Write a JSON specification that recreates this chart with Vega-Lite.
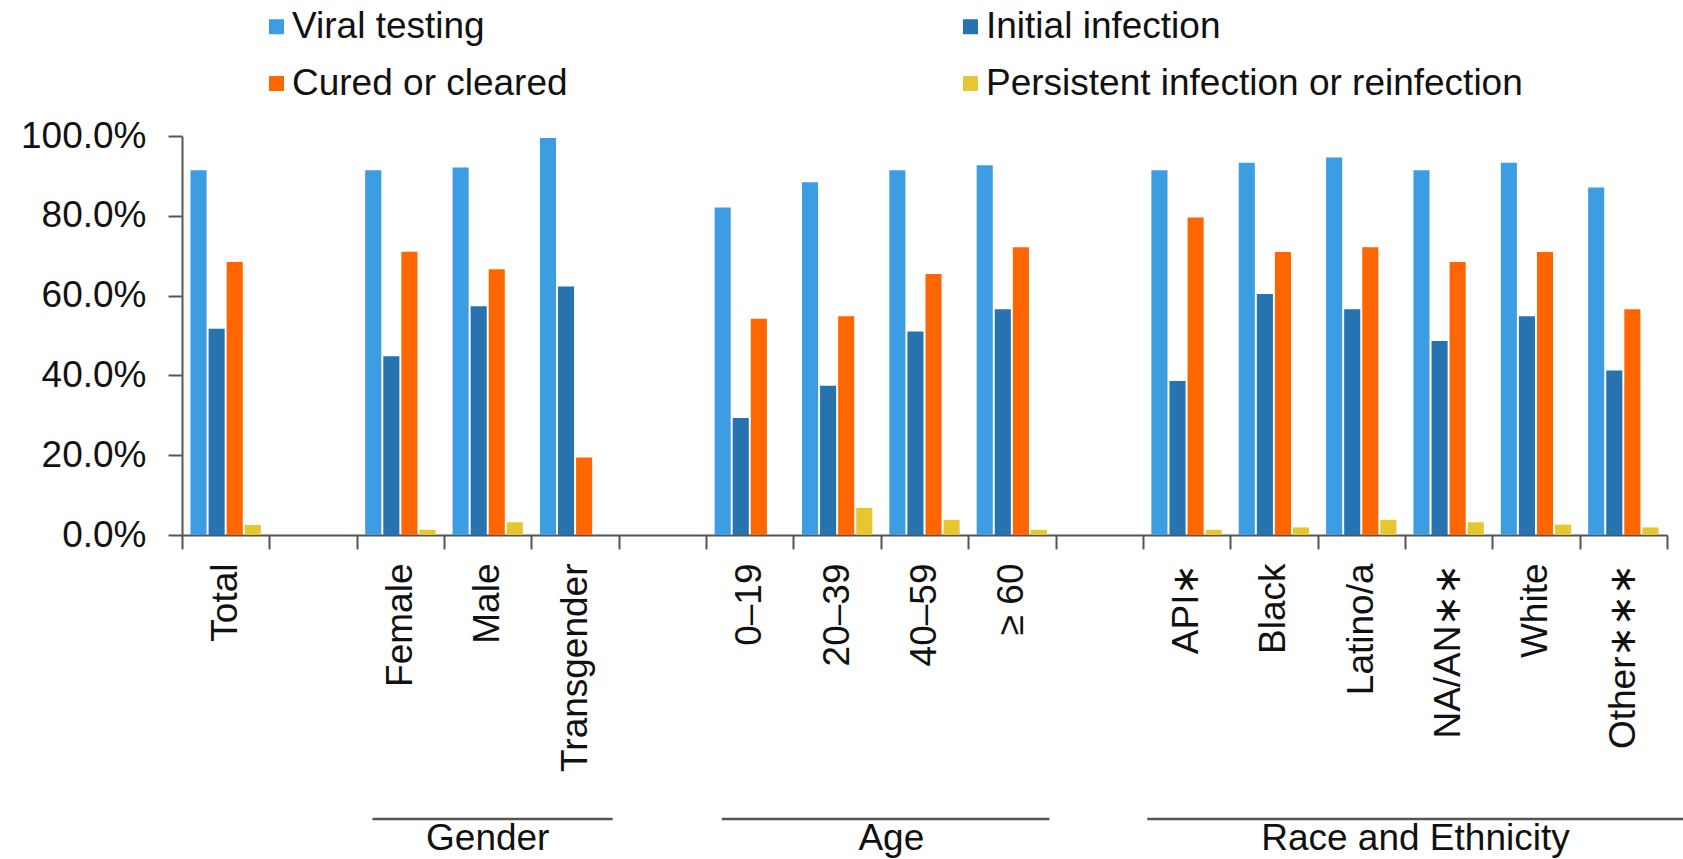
{
  "$schema": "https://vega.github.io/schema/vega-lite/v6.json",
  "width": 1485,
  "height": 399,
  "autosize": "none",
  "padding": {"left": 182, "top": 136, "right": 16, "bottom": 324},
  "background": "white",
  "config": {
    "view": {"stroke": null},
    "font": "Liberation Sans",
    "text": {"font": "Liberation Sans"}
  },
  "datasets": {
    "bars": [
      {"category": "Total", "measure": "Viral testing", "value": 0.914},
      {"category": "Total", "measure": "Initial infection", "value": 0.517},
      {"category": "Total", "measure": "Cured or cleared", "value": 0.684},
      {"category": "Total", "measure": "Persistent infection or reinfection", "value": 0.025},
      {"category": "Female", "measure": "Viral testing", "value": 0.914},
      {"category": "Female", "measure": "Initial infection", "value": 0.448},
      {"category": "Female", "measure": "Cured or cleared", "value": 0.71},
      {"category": "Female", "measure": "Persistent infection or reinfection", "value": 0.013},
      {"category": "Male", "measure": "Viral testing", "value": 0.921},
      {"category": "Male", "measure": "Initial infection", "value": 0.573},
      {"category": "Male", "measure": "Cured or cleared", "value": 0.666},
      {"category": "Male", "measure": "Persistent infection or reinfection", "value": 0.032},
      {"category": "Transgender", "measure": "Viral testing", "value": 0.995},
      {"category": "Transgender", "measure": "Initial infection", "value": 0.623},
      {"category": "Transgender", "measure": "Cured or cleared", "value": 0.194},
      {"category": "Transgender", "measure": "Persistent infection or reinfection", "value": 0.0},
      {"category": "0–19", "measure": "Viral testing", "value": 0.821},
      {"category": "0–19", "measure": "Initial infection", "value": 0.293},
      {"category": "0–19", "measure": "Cured or cleared", "value": 0.542},
      {"category": "0–19", "measure": "Persistent infection or reinfection", "value": 0.0},
      {"category": "20–39", "measure": "Viral testing", "value": 0.884},
      {"category": "20–39", "measure": "Initial infection", "value": 0.374},
      {"category": "20–39", "measure": "Cured or cleared", "value": 0.548},
      {"category": "20–39", "measure": "Persistent infection or reinfection", "value": 0.068},
      {"category": "40–59", "measure": "Viral testing", "value": 0.914},
      {"category": "40–59", "measure": "Initial infection", "value": 0.51},
      {"category": "40–59", "measure": "Cured or cleared", "value": 0.654},
      {"category": "40–59", "measure": "Persistent infection or reinfection", "value": 0.038},
      {"category": "≥ 60", "measure": "Viral testing", "value": 0.927},
      {"category": "≥ 60", "measure": "Initial infection", "value": 0.566},
      {"category": "≥ 60", "measure": "Cured or cleared", "value": 0.721},
      {"category": "≥ 60", "measure": "Persistent infection or reinfection", "value": 0.013},
      {"category": "API∗", "measure": "Viral testing", "value": 0.914},
      {"category": "API∗", "measure": "Initial infection", "value": 0.386},
      {"category": "API∗", "measure": "Cured or cleared", "value": 0.796},
      {"category": "API∗", "measure": "Persistent infection or reinfection", "value": 0.013},
      {"category": "Black", "measure": "Viral testing", "value": 0.933},
      {"category": "Black", "measure": "Initial infection", "value": 0.604},
      {"category": "Black", "measure": "Cured or cleared", "value": 0.709},
      {"category": "Black", "measure": "Persistent infection or reinfection", "value": 0.019},
      {"category": "Latino/a", "measure": "Viral testing", "value": 0.946},
      {"category": "Latino/a", "measure": "Initial infection", "value": 0.566},
      {"category": "Latino/a", "measure": "Cured or cleared", "value": 0.721},
      {"category": "Latino/a", "measure": "Persistent infection or reinfection", "value": 0.038},
      {"category": "NA/AN∗∗", "measure": "Viral testing", "value": 0.914},
      {"category": "NA/AN∗∗", "measure": "Initial infection", "value": 0.486},
      {"category": "NA/AN∗∗", "measure": "Cured or cleared", "value": 0.684},
      {"category": "NA/AN∗∗", "measure": "Persistent infection or reinfection", "value": 0.032},
      {"category": "White", "measure": "Viral testing", "value": 0.933},
      {"category": "White", "measure": "Initial infection", "value": 0.548},
      {"category": "White", "measure": "Cured or cleared", "value": 0.709},
      {"category": "White", "measure": "Persistent infection or reinfection", "value": 0.026},
      {"category": "Other∗∗∗", "measure": "Viral testing", "value": 0.871},
      {"category": "Other∗∗∗", "measure": "Initial infection", "value": 0.412},
      {"category": "Other∗∗∗", "measure": "Cured or cleared", "value": 0.566},
      {"category": "Other∗∗∗", "measure": "Persistent infection or reinfection", "value": 0.019}
    ],
    "groups": [
      {"group": "Gender", "start": "Female", "end": "Transgender", "mid": "Male"},
      {"group": "Age", "start": "0–19", "end": "≥ 60", "mid": "40–59"},
      {"group": "Race and Ethnicity", "start": "API∗", "end": "Other∗∗∗", "mid": "NA/AN∗∗"}
    ]
  },
  "layer": [
    {
      "data": {"name": "bars"},
      "mark": {"type": "bar"},
      "encoding": {
        "x": {
          "field": "category",
          "type": "nominal",
          "scale": {
            "domain": ["Total", " ", "Female", "Male", "Transgender", "  ", "0–19", "20–39", "40–59", "≥ 60", "   ", "API∗", "Black", "Latino/a", "NA/AN∗∗", "White", "Other∗∗∗"],
            "paddingInner": 0,
            "paddingOuter": 0
          },
          "axis": {
            "title": null,
            "tickBand": "extent",
            "labelAngle": -90,
            "labelFontSize": 37,
            "labelColor": "#111111",
            "labelPadding": 14,
            "labelLimit": 500,
            "domainColor": "#555555",
            "domainWidth": 2,
            "tickColor": "#555555",
            "tickWidth": 2,
            "tickSize": 14
          }
        },
        "xOffset": {
          "field": "measure",
          "type": "nominal",
          "scale": {
            "domain": ["Viral testing", "Initial infection", "Cured or cleared", "Persistent infection or reinfection"],
            "paddingInner": 0.11,
            "paddingOuter": 0.47
          }
        },
        "y": {
          "field": "value",
          "type": "quantitative",
          "scale": {"domain": [0, 1], "nice": false},
          "axis": {
            "title": null,
            "format": ".1%",
            "values": [0, 0.2, 0.4, 0.6, 0.8, 1],
            "grid": false,
            "labelFontSize": 37,
            "labelColor": "#111111",
            "labelPadding": 22,
            "domainColor": "#555555",
            "domainWidth": 2,
            "tickColor": "#555555",
            "tickWidth": 2,
            "tickSize": 14
          }
        },
        "color": {
          "field": "measure",
          "type": "nominal",
          "scale": {
            "domain": ["Viral testing", "Initial infection", "Cured or cleared", "Persistent infection or reinfection"],
            "range": ["#3C9DE3", "#2673B0", "#FF6600", "#E6C72F"]
          },
          "legend": {
            "title": null,
            "orient": "none",
            "legendX": 76,
            "legendY": -128,
            "direction": "horizontal",
            "columns": 2,
            "columnPadding": 384,
            "rowPadding": 19,
            "symbolType": "square",
            "symbolSize": 225,
            "symbolStrokeWidth": 0,
            "symbolOpacity": 1,
            "labelFontSize": 37,
            "labelColor": "#111111",
            "labelOffset": -3,
            "labelLimit": 800
          }
        }
      }
    },
    {
      "data": {"name": "groups"},
      "transform": [{"filter": "datum.group !== 'Race and Ethnicity'"}],
      "mark": {"type": "rule", "color": "#555555", "strokeWidth": 2.5},
      "encoding": {
        "x": {"field": "start", "type": "nominal", "bandPosition": 0.18},
        "x2": {"field": "end", "bandPosition": 0.93},
        "y": {"datum": -0.712}
      }
    },
    {
      "data": {"name": "groups"},
      "transform": [{"filter": "datum.group === 'Race and Ethnicity'"}],
      "mark": {"type": "rule", "color": "#555555", "strokeWidth": 2.5},
      "encoding": {
        "x": {"field": "start", "type": "nominal", "bandPosition": 0.05},
        "x2": {"field": "end", "bandPosition": 1.19},
        "y": {"datum": -0.712}
      }
    },
    {
      "data": {"name": "groups"},
      "transform": [{"filter": "datum.group === 'Gender'"}],
      "mark": {"type": "text", "fontSize": 37, "color": "#111111", "align": "center", "baseline": "alphabetic"},
      "encoding": {
        "x": {"field": "mid", "type": "nominal", "bandPosition": 0.5},
        "y": {"datum": -0.789},
        "text": {"field": "group"}
      }
    },
    {
      "data": {"name": "groups"},
      "transform": [{"filter": "datum.group !== 'Gender'"}],
      "mark": {"type": "text", "fontSize": 37, "color": "#111111", "align": "center", "baseline": "alphabetic"},
      "encoding": {
        "x": {"field": "mid", "type": "nominal", "bandPosition": 0.12},
        "y": {"datum": -0.789},
        "text": {"field": "group"}
      }
    }
  ]
}
